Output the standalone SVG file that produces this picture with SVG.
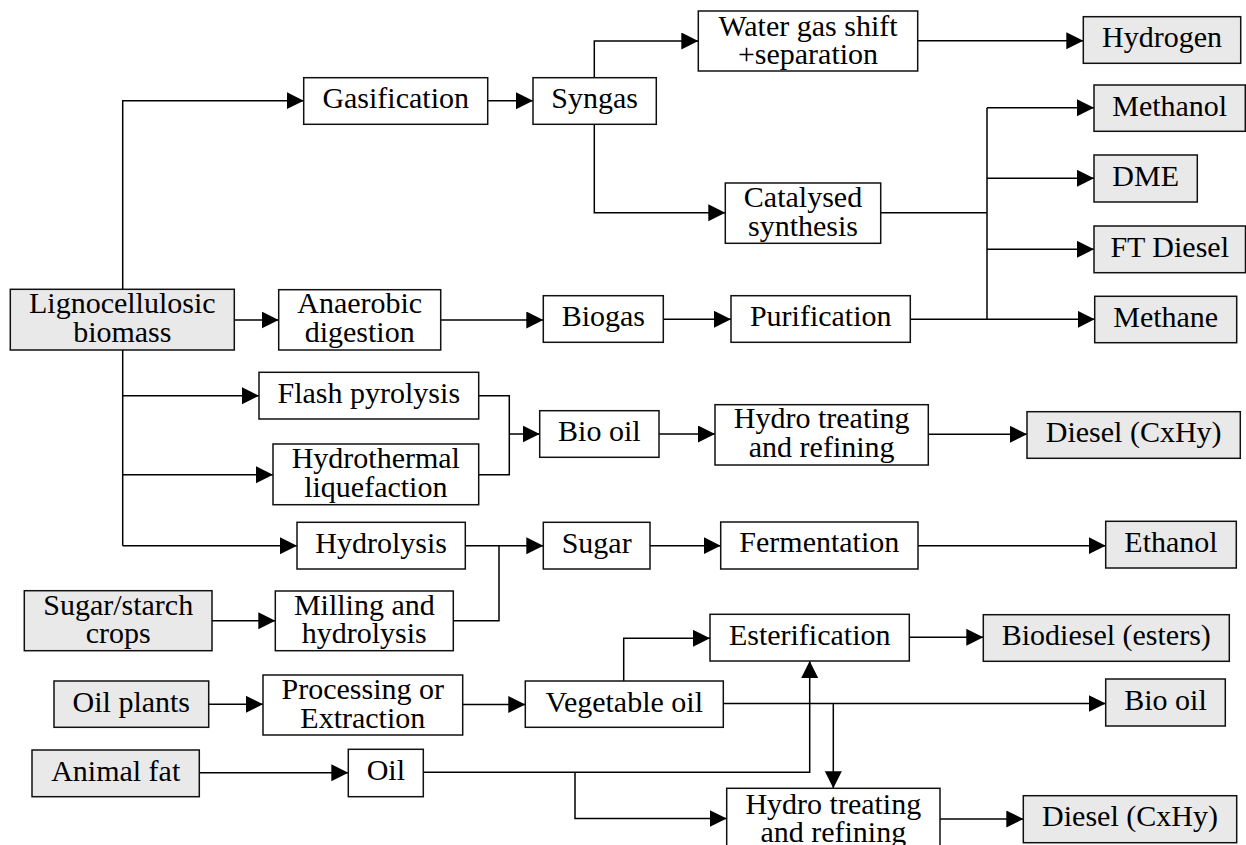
<svg xmlns="http://www.w3.org/2000/svg" width="1246" height="845" viewBox="0 0 1246 845">
<defs>
<marker id="ah" markerUnits="userSpaceOnUse" markerWidth="18" markerHeight="18" refX="17" refY="8.5" orient="auto">
<path d="M0,0 L17,8.5 L0,17 z" fill="#000"/>
</marker>
<style>
.b{fill:#fff;stroke:#111;stroke-width:1.5}
.g{fill:#e9e9e9;stroke:#111;stroke-width:1.5}
text{font-family:"Liberation Serif","Times New Roman",serif;font-size:30px;fill:#000;text-anchor:middle}
.c path{fill:none;stroke:#000;stroke-width:1.5}
.c path.a{marker-end:url(#ah)}
</style>
</defs>
<rect width="1246" height="845" fill="#fff"/>
<g class="c" id="connectors">
<path class="a" d="M122.7,289.3 V100.7 H303.7"/>
<path class="a" d="M234.3,320 H278.7"/>
<path d="M122.7,350 V545.7"/>
<path class="a" d="M122.7,395.7 H259"/>
<path class="a" d="M122.7,474.7 H273"/>
<path class="a" d="M122.7,545.7 H297"/>
<path class="a" d="M487.7,100.7 H533"/>
<path class="a" d="M594.3,77.7 V41 H698.3"/>
<path class="a" d="M594.3,124.3 V212.7 H725.3"/>
<path class="a" d="M917.7,40.7 H1083.3"/>
<path d="M880.7,212.7 H987"/>
<path d="M987,107.7 V319.3"/>
<path class="a" d="M987,107.7 H1094"/>
<path class="a" d="M987,178.3 H1094"/>
<path class="a" d="M987,249.3 H1094"/>
<path class="a" d="M987,319.3 H1094.7"/>
<path class="a" d="M440.7,320 H543.3"/>
<path class="a" d="M663.3,319.3 H731"/>
<path d="M910.3,319.3 H987"/>
<path d="M478.7,395.7 H509.3 V474.7 H478.7"/>
<path class="a" d="M509.3,434 H539.7"/>
<path class="a" d="M659,434 H715"/>
<path class="a" d="M928.3,434.3 H1027"/>
<path class="a" d="M465.3,545.7 H543.3"/>
<path d="M453.3,620.7 H499 V545.7"/>
<path class="a" d="M650,545.7 H720.7"/>
<path class="a" d="M918,545.7 H1105.7"/>
<path class="a" d="M212,620.7 H275.3"/>
<path class="a" d="M208.7,704.3 H263"/>
<path class="a" d="M462.7,704.5 H525.3"/>
<path class="a" d="M623.7,681 V638.3 H710"/>
<path class="a" d="M909.3,637.3 H983.3"/>
<path class="a" d="M723.3,703.5 H1105.7"/>
<path class="a" d="M833.3,703.5 V788.3"/>
<path class="a" d="M199.3,772.7 H348.3"/>
<path class="a" d="M423.3,772.3 H809.7 V661"/>
<path class="a" d="M575,772.3 V818.5 H726.7"/>
<path class="a" d="M940,819 H1023.3"/>
</g>
<g id="n-ligno"><rect class="g" x="10.3" y="289.3" width="224" height="60.7"/><text x="122.3" y="313.3">Lignocellulosic</text><text x="122.3" y="341.7">biomass</text></g>
<g id="n-gasification"><rect class="b" x="303.7" y="77.7" width="184" height="46.6"/><text x="395.7" y="108.3">Gasification</text></g>
<g id="n-syngas"><rect class="b" x="533" y="77.7" width="123.3" height="46.6"/><text x="594.7" y="108.3">Syngas</text></g>
<g id="n-wgs"><rect class="b" x="698.3" y="11" width="219.4" height="60"/><text x="808" y="35.5">Water gas shift</text><text x="808" y="64">+separation</text></g>
<g id="n-hydrogen"><rect class="g" x="1083.3" y="16.7" width="157.4" height="46.6"/><text x="1162" y="47.3">Hydrogen</text></g>
<g id="n-catalysed"><rect class="b" x="725.3" y="183" width="155.4" height="60.3"/><text x="803" y="207">Catalysed</text><text x="803" y="235.5">synthesis</text></g>
<g id="n-methanol"><rect class="g" x="1094" y="85" width="151.3" height="46.3"/><text x="1169.7" y="115.5">Methanol</text></g>
<g id="n-dme"><rect class="g" x="1094" y="155" width="103.3" height="47"/><text x="1145.7" y="185.5">DME</text></g>
<g id="n-ftdiesel"><rect class="g" x="1094" y="226" width="151.5" height="46.7"/><text x="1169.7" y="256.5">FT Diesel</text></g>
<g id="n-methane"><rect class="g" x="1094.7" y="296.3" width="142" height="46.4"/><text x="1165.7" y="326.8">Methane</text></g>
<g id="n-anaerobic"><rect class="b" x="278.7" y="289.7" width="162" height="60.3"/><text x="359.7" y="313.3">Anaerobic</text><text x="359.7" y="341.7">digestion</text></g>
<g id="n-biogas"><rect class="b" x="543.3" y="295.7" width="120" height="46.6"/><text x="603.3" y="326.2">Biogas</text></g>
<g id="n-purification"><rect class="b" x="731" y="295.7" width="179.3" height="46.6"/><text x="820.7" y="326.2">Purification</text></g>
<g id="n-flash"><rect class="b" x="259" y="372.3" width="219.7" height="46.7"/><text x="368.8" y="402.8">Flash pyrolysis</text></g>
<g id="n-htl"><rect class="b" x="273" y="444" width="205.7" height="60.7"/><text x="375.8" y="468">Hydrothermal</text><text x="375.8" y="496.5">liquefaction</text></g>
<g id="n-biooil1"><rect class="b" x="539.7" y="410.7" width="119.3" height="46.6"/><text x="599.3" y="441.2">Bio oil</text></g>
<g id="n-hydro1"><rect class="b" x="715" y="404.7" width="213.3" height="60.3"/><text x="821.7" y="428.3">Hydro treating</text><text x="821.7" y="457">and refining</text></g>
<g id="n-diesel1"><rect class="g" x="1027" y="411.7" width="213.3" height="46.6"/><text x="1133.7" y="442.2">Diesel (CxHy)</text></g>
<g id="n-hydrolysis"><rect class="b" x="297" y="522.3" width="168.3" height="46.7"/><text x="381.2" y="552.5">Hydrolysis</text></g>
<g id="n-sugar"><rect class="b" x="543.3" y="522.3" width="106.7" height="46.7"/><text x="596.7" y="552.5">Sugar</text></g>
<g id="n-fermentation"><rect class="b" x="720.7" y="522" width="197.3" height="47"/><text x="819.3" y="552.2">Fermentation</text></g>
<g id="n-ethanol"><rect class="g" x="1105.7" y="521.3" width="130.6" height="46.7"/><text x="1171" y="551.8">Ethanol</text></g>
<g id="n-sugarstarch"><rect class="g" x="24.3" y="590.7" width="187.7" height="60"/><text x="118.2" y="614.5">Sugar/starch</text><text x="118.2" y="643">crops</text></g>
<g id="n-milling"><rect class="b" x="275.3" y="591" width="178" height="59.7"/><text x="364.3" y="614.5">Milling and</text><text x="364.3" y="643">hydrolysis</text></g>
<g id="n-oilplants"><rect class="g" x="54" y="681" width="154.7" height="46.3"/><text x="131.3" y="711.5">Oil plants</text></g>
<g id="n-processing"><rect class="b" x="263" y="675" width="199.7" height="60"/><text x="362.8" y="699">Processing or</text><text x="362.8" y="727.5">Extraction</text></g>
<g id="n-vegoil"><rect class="b" x="525.3" y="681" width="198" height="46.3"/><text x="624.3" y="711.5">Vegetable oil</text></g>
<g id="n-esterification"><rect class="b" x="710" y="614.3" width="199.3" height="46.7"/><text x="809.7" y="644.8">Esterification</text></g>
<g id="n-biodiesel"><rect class="g" x="983.3" y="614.7" width="246" height="46.6"/><text x="1106.3" y="645.2">Biodiesel (esters)</text></g>
<g id="n-biooil2"><rect class="g" x="1105.7" y="679" width="119.6" height="47"/><text x="1165.5" y="709.5">Bio oil</text></g>
<g id="n-animalfat"><rect class="g" x="32" y="750" width="167.3" height="46.7"/><text x="115.7" y="780.5">Animal fat</text></g>
<g id="n-oil"><rect class="b" x="348.3" y="749.3" width="75" height="47.4"/><text x="385.8" y="780">Oil</text></g>
<g id="n-hydro2"><rect class="b" x="726.7" y="788.3" width="213.3" height="62"/><text x="833.3" y="814.3">Hydro treating</text><text x="833.3" y="842">and refining</text></g>
<g id="n-diesel2"><rect class="g" x="1023.3" y="795.7" width="213.4" height="47"/><text x="1130" y="826.2">Diesel (CxHy)</text></g>
</svg>
